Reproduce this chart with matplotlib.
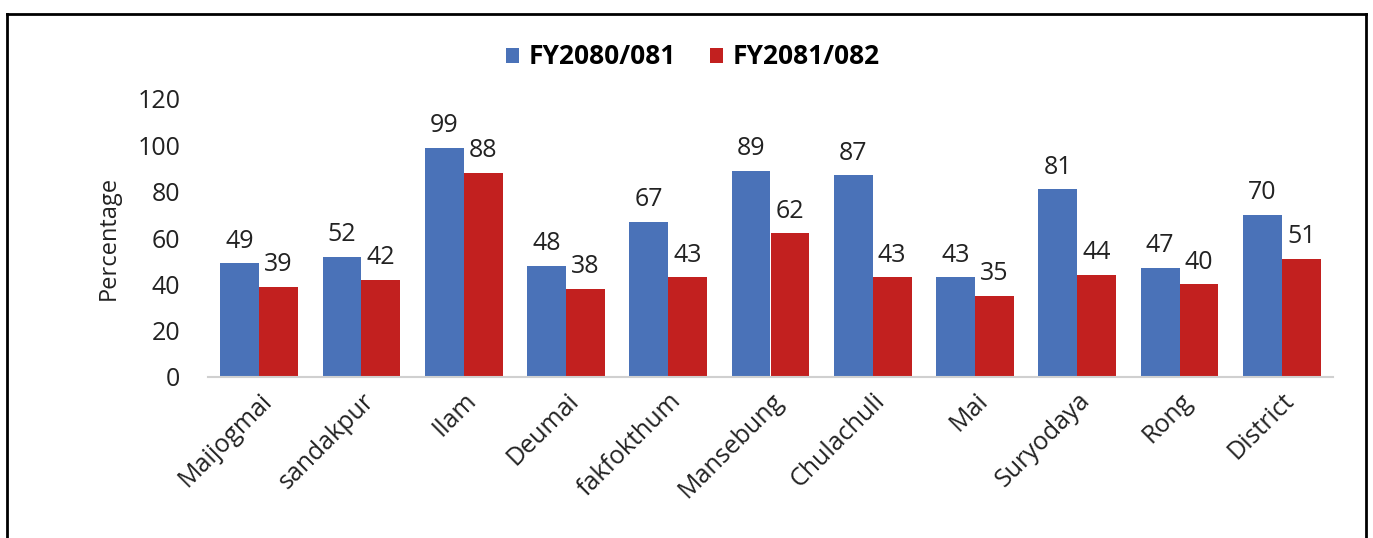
import matplotlib
matplotlib.use("Agg")
import matplotlib.pyplot as plt
import matplotlib.transforms as mtransforms
import numpy as np
from matplotlib.lines import Line2D

categories = ["Maijogmai", "sandakpur", "Ilam", "Deumai", "fakfokthum", "Mansebung",
              "Chulachuli", "Mai", "Suryodaya", "Rong", "District"]
fy2080 = [49, 52, 99, 48, 67, 89, 87, 43, 81, 47, 70]
fy2081 = [39, 42, 88, 38, 43, 62, 43, 35, 44, 40, 51]
series_names = ["FY2080/081", "FY2081/082"]
yticks = [0, 20, 40, 60, 80, 100, 120]

plt.rcParams['font.family'] = ['Open Sans', 'DejaVu Sans']

W, H = 1373, 538
fig = plt.figure(figsize=(W/100, H/100), dpi=100)
ax = fig.add_axes([208/W, 1-377/H, (1333-208)/W, (377-99)/H])

blue = "#4a72b8"
red = "#c2201f"
x = np.arange(len(categories))
bw = 0.38
b1 = ax.bar(x - bw/2, fy2080, bw, color=blue, label=series_names[0])
b2 = ax.bar(x + bw/2, fy2081, bw, color=red, label=series_names[1])
for bars in (b1, b2):
    for r in bars:
        ax.annotate(f"{int(r.get_height())}", (r.get_x() + r.get_width()/2, r.get_height()),
                    xytext=(0, 7), textcoords="offset points", ha="center", va="bottom",
                    fontsize=18, color="#222222")

ax.set_xlim(-0.5, len(categories) - 0.5)
ax.set_ylim(0, 120)
ax.set_yticks(yticks)
ax.set_xticks(x)
ax.set_xticklabels(categories, rotation=45, ha="right", rotation_mode="anchor", fontsize=18)
offset = mtransforms.ScaledTranslation(-7/100, 0, fig.dpi_scale_trans)
for lbl in ax.get_xticklabels():
    lbl.set_transform(lbl.get_transform() + offset)
ax.tick_params(axis="y", labelsize=18, length=0, pad=20, labelcolor="#222222")
ax.tick_params(axis="x", length=0, pad=8, labelcolor="#222222")
for s in ["top", "right", "left"]:
    ax.spines[s].set_visible(False)
ax.spines["bottom"].set_color("#d0d0d0")
ax.spines["bottom"].set_linewidth(1.5)
ax.set_ylabel("Percentage", fontsize=17, labelpad=12, color="#222222")

leg = fig.legend(loc="center", bbox_to_anchor=(693/W, 1-57/H), ncol=2, frameon=False,
                 prop={"weight": "bold", "size": 19}, handlelength=0.5, handleheight=0.5,
                 columnspacing=1.3, handletextpad=0.35)

# outer frame (left, top, right)
fig.add_artist(Line2D([7/W, 7/W], [0, 1-14/H], color="black", lw=2, transform=fig.transFigure))
fig.add_artist(Line2D([7/W, 1366/W], [1-14/H, 1-14/H], color="black", lw=2, transform=fig.transFigure))
fig.add_artist(Line2D([1366/W, 1366/W], [0, 1-14/H], color="black", lw=2, transform=fig.transFigure))

fig.savefig("out.png", dpi=100)
